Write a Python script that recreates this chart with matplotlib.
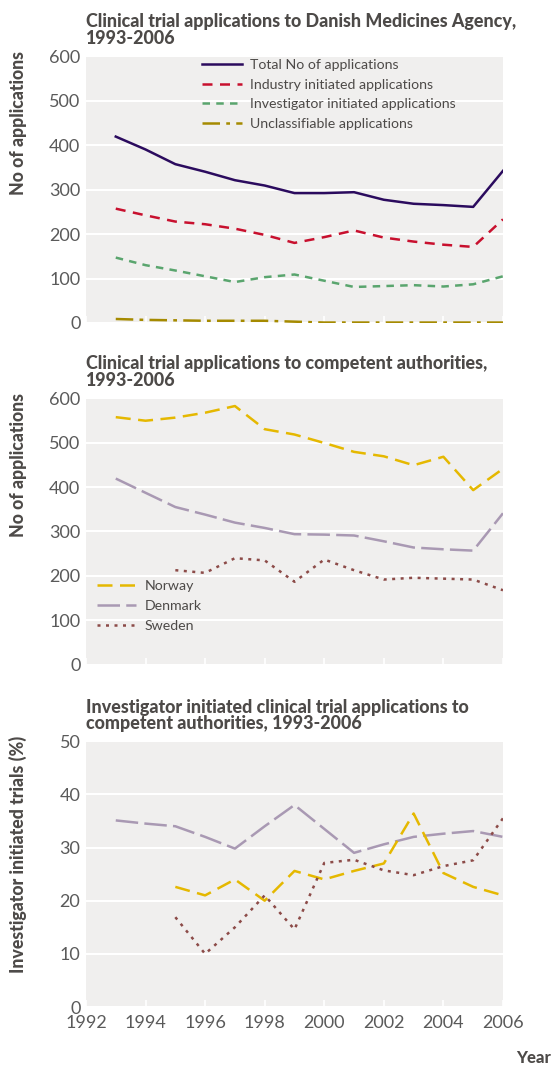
import numpy as np
import matplotlib
matplotlib.use('Agg')
import matplotlib.pyplot as plt

# Data
years = list(range(1993, 2007))
total = [419, 390, 357, 340, 321, 309, 292, 292, 294, 277, 268, 265, 261, 342]
industry = [257, 242, 228, 222, 212, 198, 180, 193, 208, 192, 183, 176, 171, 233]
investigator = [147, 130, 118, 105, 92, 103, 109, 95, 81, 83, 85, 82, 87, 105]
unclassifiable = [9, 7, 6, 5, 5, 5, 3, 1, 1, 1, 1, 1, 1, 1]

norway = [557, 549, 556, 567, 582, 530, 518, 499, 479, 469, 449, 468, 393, 441]
denmark = [419, 387, 355, 338, 320, 308, 294, 293, 291, 278, 264, 260, 257, 341]
years_se = list(range(1995, 2007))
sweden = [213, 207, 240, 235, 187, 237, 213, 192, 196, 194, 192, 168]

years_no_pct = list(range(1995, 2007))
norway_pct = [22.6, 21.0, 24.0, 20.0, 25.6, 24.0, 25.6, 27.0, 36.4, 25.2, 22.6, 21.0]
denmark_pct = [35.1, 34.5, 34.0, 32.0, 29.8, 34.0, 38.0, 33.5, 29.0, 30.6, 32.0, 32.6, 33.1, 32.0]
sweden_pct = [16.9, 10.0, 15.0, 21.0, 14.6, 27.1, 27.7, 25.7, 24.8, 26.5, 27.6, 35.5]

title_font = ['Lato', 'DejaVu Sans']
body_font = ['Lato', 'DejaVu Sans']
txt_col = '#4d4a48'
bg = '#f0efee'

c_total = '#2b0b5e'
c_ind = '#c8102e'
c_inv = '#5aa56e'
c_unc = '#a58a00'
c_no = '#e5b800'
c_dk = '#a999b3'
c_se = '#8c4b48'

fig = plt.figure(figsize=(5.54, 10.72), dpi=100)
L, W = 0.1552, 0.7527
ax1 = fig.add_axes([L, 0.6987, W, 0.249])
ax2 = fig.add_axes([L, 0.3797, W, 0.249])
ax3 = fig.add_axes([L, 0.0606, W, 0.248])


def style(ax, ymax, step, ylabel, title, show_x):
    ax.set_facecolor(bg)
    ax.set_xlim(1992, 2006)
    ax.set_ylim(0, ymax)
    ax.set_yticks(np.arange(0, ymax + 1, step))
    ax.set_xticks(range(1992, 2007, 2))
    for s in ax.spines.values():
        s.set_visible(False)
    ax.grid(axis='y', color='white', lw=1.5)
    ax.set_axisbelow(True)
    ax.tick_params(axis='y', length=0, labelsize=13, labelcolor='#5a5a5a', pad=4)
    ax.tick_params(axis='x', direction='in', length=5, color='white', width=1.2,
                   labelsize=13, labelcolor='#5a5a5a', pad=6)
    for lab in ax.get_xticklabels() + ax.get_yticklabels():
        lab.set_family(body_font)
    if not show_x:
        ax.set_xticklabels([])
    ax.text(-0.163, 1.02, ylabel, transform=ax.transAxes, rotation=90,
            ha='center', va='top', fontsize=12.8, fontweight='black',
            color=txt_col, family=title_font)
    ax.text(0.0, 1.035, title, transform=ax.transAxes, ha='left', va='bottom',
            fontsize=12.9, fontweight='black', color=txt_col, family=title_font,
            linespacing=0.95)


style(ax1, 600, 100, 'No of applications',
      'Clinical trial applications to Danish Medicines Agency,\n1993-2006', False)
ax1.plot(years, total, color=c_total, lw=1.8, label='Total No of applications')
ax1.plot(years, industry, color=c_ind, lw=1.8, dashes=(4, 3), label='Industry initiated applications')
ax1.plot(years, investigator, color=c_inv, lw=1.8, dashes=(3, 2.5), label='Investigator initiated applications')
ax1.plot(years, unclassifiable, color=c_unc, lw=1.8, dashes=(7, 2.5, 1.5, 2.5), label='Unclassifiable applications')
leg = ax1.legend(loc='upper left', bbox_to_anchor=(0.278, 0.99), frameon=False,
                 fontsize=10.2, handlelength=2.8, handletextpad=0.6,
                 labelspacing=0.55, borderpad=0, borderaxespad=0)
for t in leg.get_texts():
    t.set_color(txt_col)
    t.set_family(body_font)

style(ax2, 600, 100, 'No of applications',
      'Clinical trial applications to competent authorities,\n1993-2006', False)
ax2.plot(years, norway, color=c_no, lw=1.8, dashes=(6, 3), label='Norway')
ax2.plot(years, denmark, color=c_dk, lw=1.8, dashes=(9, 2.5), label='Denmark')
ax2.plot(years_se, sweden, color=c_se, lw=1.8, dashes=(1.2, 2.2), label='Sweden')
leg = ax2.legend(loc='upper left', bbox_to_anchor=(0.026, 0.318), frameon=False,
                 fontsize=10.2, handlelength=2.8, handletextpad=0.6,
                 labelspacing=0.55, borderpad=0, borderaxespad=0)
for t in leg.get_texts():
    t.set_color(txt_col)
    t.set_family(body_font)

style(ax3, 50, 10, 'Investigator initiated trials (%)',
      'Investigator initiated clinical trial applications to\ncompetent authorities, 1993-2006', True)
ax3.plot(years, denmark_pct, color=c_dk, lw=1.8, dashes=(9, 2.5))
ax3.plot(years_no_pct, norway_pct, color=c_no, lw=1.8, dashes=(6, 3))
ax3.plot(years_se, sweden_pct, color=c_se, lw=1.8, dashes=(1.2, 2.2))

fig.text(0.995, 0.006, 'Year', ha='right', va='bottom', fontsize=12,
         fontweight='black', color=txt_col, family=title_font)

fig.savefig('out.png', dpi=100)
